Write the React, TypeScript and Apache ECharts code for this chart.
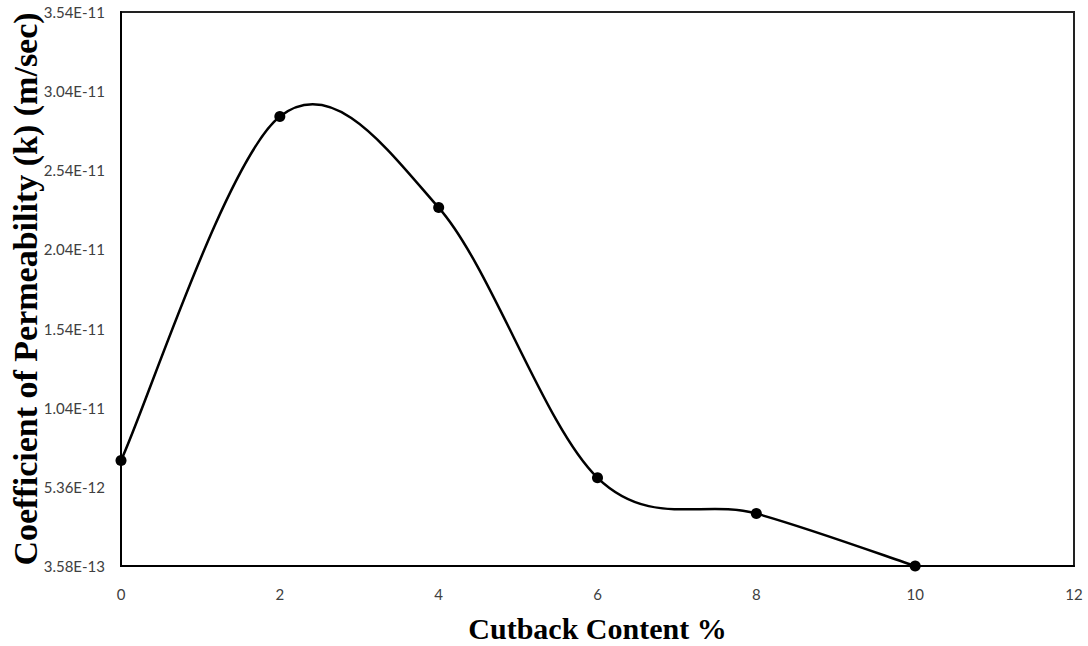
import React, { useEffect, useRef } from "react";
import * as echarts from "echarts";

const xValues = [0, 2, 4, 6, 8, 10];
const yValues = [7.02e-12, 2.875e-11, 2.3e-11, 5.93e-12, 3.67e-12, 3.58e-13];
const yTickValues = [
  3.58e-13, 5.358e-12, 1.0358e-11, 1.5358e-11, 2.0358e-11, 2.5358e-11, 3.0358e-11, 3.5358e-11,
];
const xTitle = "Cutback Content %";
const yTitle = "Coefficient of Permeability (k) (m/sec)";

export default function App() {
  const ref = useRef<HTMLDivElement>(null);
  useEffect(() => {
    document.body.style.margin = "0";
    const chart = echarts.init(ref.current!, null, { renderer: "svg" });
    const n = xValues.length;
    chart.setOption({
      animation: false,
      backgroundColor: "#ffffff",
      grid: {
        left: 121,
        right: 14,
        top: 12,
        bottom: 80,
        containLabel: false,
        outerBoundsMode: "none",
        show: true,
        borderColor: "#222",
        borderWidth: 2,
      },
      xAxis: {
        type: "value",
        min: 0,
        max: 12,
        interval: 2,
        name: xTitle,
        nameLocation: "middle",
        nameGap: 47,
        nameMoveOverlap: false,
        nameTextStyle: {
          fontFamily: "Liberation Serif",
          fontWeight: "bold",
          fontSize: 30,
          color: "#000",
        },
        axisLine: { show: true, onZero: false, lineStyle: { color: "#000", width: 2 } },
        axisTick: { show: false },
        splitLine: { show: false },
        axisLabel: {
          margin: 20,
          fontFamily: "Lato",
          fontSize: 15,
          color: "#404040",
        },
      },
      yAxis: {
        type: "value",
        min: yTickValues[0],
        max: yTickValues[yTickValues.length - 1],
        name: yTitle,
        nameLocation: "middle",
        nameGap: 79,
        nameMoveOverlap: false,
        nameTextStyle: {
          fontFamily: "Liberation Serif",
          fontWeight: "bold",
          fontSize: 34,
          color: "#000",
        },
        axisLine: { show: true, onZero: false, lineStyle: { color: "#000", width: 2 } },
        axisTick: { show: false, customValues: yTickValues },
        splitLine: { show: false },
        axisLabel: {
          customValues: yTickValues,
          margin: 16,
          fontFamily: "Lato",
          fontSize: 15,
          color: "#404040",
          formatter: (v: number) => v.toExponential(2).toUpperCase(),
        },
      },
      series: [
        {
          type: "custom",
          clip: false,
          data: xValues.slice(0, n - 1).map((x, i) => [x, yValues[i]]),
          renderItem: (params: any, api: any) => {
            const i = params.dataIndex;
            const pt = (k: number) => {
              const j = Math.max(0, Math.min(n - 1, k));
              return api.coord([xValues[j], yValues[j]]);
            };
            const p0 = pt(i - 1);
            const p1 = pt(i);
            const p2 = pt(i + 1);
            const p3 = pt(i + 2);
            return {
              type: "bezierCurve",
              shape: {
                x1: p1[0],
                y1: p1[1],
                x2: p2[0],
                y2: p2[1],
                cpx1: p1[0] + (p2[0] - p0[0]) / 6,
                cpy1: p1[1] + (p2[1] - p0[1]) / 6,
                cpx2: p2[0] - (p3[0] - p1[0]) / 6,
                cpy2: p2[1] - (p3[1] - p1[1]) / 6,
              },
              style: { stroke: "#000", lineWidth: 2.5, fill: "none" },
            };
          },
          z: 2,
        },
        {
          type: "scatter",
          data: xValues.map((x, i) => [x, yValues[i]]),
          symbol: "circle",
          symbolSize: 11,
          itemStyle: { color: "#000", opacity: 1 },
          z: 3,
        },
      ],
    });
    return () => chart.dispose();
  }, []);
  return <div ref={ref} style={{ width: 1088, height: 646 }} />;
}
